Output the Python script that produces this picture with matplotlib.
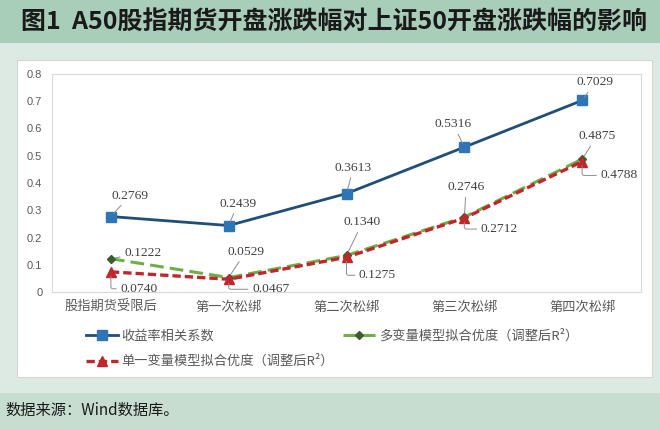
import numpy as np
import matplotlib
matplotlib.use('Agg')
import matplotlib.pyplot as plt
from matplotlib.patches import Rectangle

plt.rcParams['font.family'] = ['Noto Sans CJK SC', 'DejaVu Sans']

categories = ['股指期货受限后', '第一次松绑', '第二次松绑', '第三次松绑', '第四次松绑']
corr = [0.2769, 0.2439, 0.3613, 0.5316, 0.7029]
multi_r2 = [0.1222, 0.0529, 0.1340, 0.2746, 0.4875]
single_r2 = [0.0740, 0.0467, 0.1275, 0.2712, 0.4788]
names = ['收益率相关系数', '多变量模型拟合优度（调整后R²）', '单一变量模型拟合优度（调整后R²）']
y_ticks = [0, 0.1, 0.2, 0.3, 0.4, 0.5, 0.6, 0.7, 0.8]
y_tick_labels = ['0', '0.1', '0.2', '0.3', '0.4', '0.5', '0.6', '0.7', '0.8']
title = '图1  A50股指期货开盘涨跌幅对上证50开盘涨跌幅的影响'
source = '数据来源：Wind数据库。'

W, H = 660, 429
fig = plt.figure(figsize=(W / 100, H / 100), dpi=100)
fig.patch.set_facecolor('#dde9e3')


def fx(px):
    return px / W


def fy(py):
    return 1 - py / H


def box(x0, y0, x1, y1, color, edge='none'):
    fig.add_artist(Rectangle((fx(x0), fy(y1)), (x1 - x0) / W, (y1 - y0) / H,
                             transform=fig.transFigure, facecolor=color,
                             edgecolor=edge, lw=0.8, zorder=-5))


# background bands
box(0, 0, W, 43, '#a8cdb9')
box(17, 60, 652, 377, 'white', '#cfd8d3')
box(0, 393, W, H, '#c6ddd0')

ax = fig.add_axes([fx(52), fy(292), (641 - 52) / W, (292 - 74) / H])
x = np.arange(len(categories))

l_multi, = ax.plot(x, multi_r2, color='#70ad47', lw=2.2, dashes=(4.5, 2),
                   marker='D', ms=4, mfc='#3d5c2b', mec='#3d5c2b', zorder=3)
l_single, = ax.plot(x, single_r2, color='#c0272d', lw=2.4, dashes=(2.5, 1.2),
                    marker='^', ms=6.5, mfc='#c0272d', mec='#c0272d', zorder=4)
l_corr, = ax.plot(x, corr, color='#1f4e79', lw=2, marker='s', ms=7,
                  mfc='#2e75b6', mec='#2e75b6', zorder=5)

ax.set_xlim(-0.5, len(categories) - 0.5)
ax.set_ylim(0, 0.8)
ax.set_yticks(y_ticks)
ax.set_yticklabels(y_tick_labels, family='Liberation Sans', fontsize=8, color='#595959')
ax.set_xticks(x)
ax.set_xticklabels(categories, fontsize=9.5, color='#595959')
ax.tick_params(axis='y', length=0, pad=7)
ax.tick_params(axis='x', length=0, pad=6.5)
for s in ax.spines.values():
    s.set_color('#d9d9d9')
    s.set_linewidth(0.8)

# data labels (offsets in points)
corr_off = [(13.7, 15.1), (6.5, 15.8), (5, 18.7), (-7.9, 16.6), (9.4, 13)]
multi_off = [(23, 4.3), (12.2, 18.7), (11.5, 23.8), (1.4, 21.6), (10.8, 16.6)]
single_off = [(20.2, -12.2), (30.2, -7.2), (22.3, -13), (25.2, -7.9), (26.6, -10)]

lab = dict(fontsize=9.7, family='Liberation Serif', color='#404040', ha='center', va='center')


def label(vals, offs, elbow=False):
    for i, (v, off) in enumerate(zip(vals, offs)):
        ap = dict(arrowstyle='-', color='#8c8c8c', lw=0.7, shrinkA=1, shrinkB=3)
        if elbow:
            ap['connectionstyle'] = 'angle,angleA=0,angleB=90,rad=2'
        ax.annotate(f'{v:.4f}', xy=(i, v), xytext=off, textcoords='offset points',
                    arrowprops=ap, zorder=6, **lab)


label(corr, corr_off)
label(multi_r2, multi_off)
label(single_r2, single_off, elbow=True)

fig.legend([l_corr, l_single, l_multi], [names[0], names[2], names[1]],
           loc='upper left', bbox_to_anchor=(fx(86), fy(329)), ncol=2, frameon=False,
           fontsize=9.5, handlelength=2.4, handletextpad=0.3, columnspacing=0.7,
           labelspacing=0.95, borderpad=0, borderaxespad=0, labelcolor='#595959')

fig.text(fx(21), fy(22), title, fontsize=18, weight='bold', va='center', ha='left', color='#1a1a1a')
fig.text(fx(5), fy(410), source, fontsize=11, va='center', ha='left', color='#1a1a1a')

fig.savefig('out.png', dpi=100, facecolor=fig.get_facecolor())
